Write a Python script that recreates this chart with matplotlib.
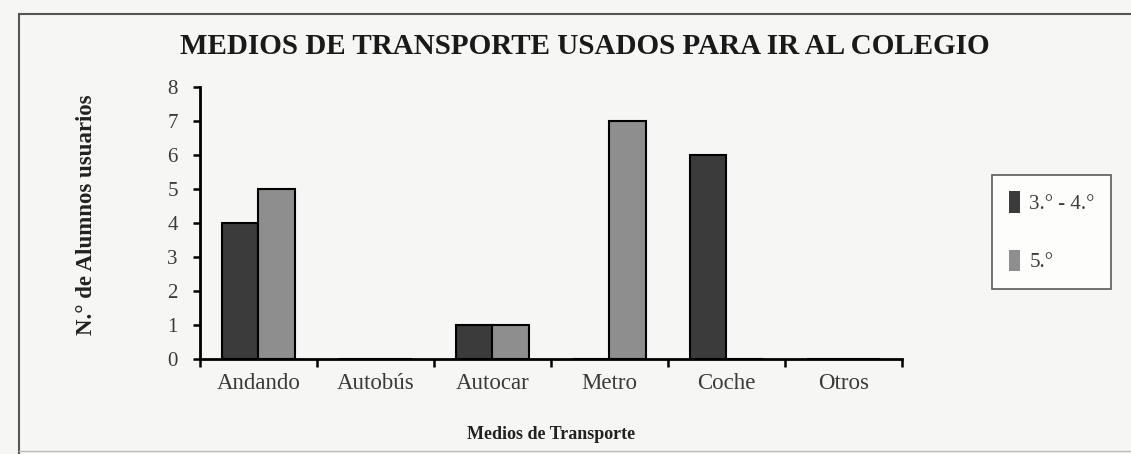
import matplotlib.pyplot as plt
from matplotlib.patches import Patch
from matplotlib.lines import Line2D
import numpy as np

# Datos: alumnos por medio de transporte
medios = ['Andando', 'Autobús', 'Autocar', 'Metro', 'Coche', 'Otros']
curso_3_4 = [4, 0, 1, 0, 6, 0]
curso_5 = [5, 0, 1, 7, 0, 0]
series_labels = ['3.° - 4.°', '5.°']

color_oscuro = '#3b3b3b'
color_claro = '#8e8e8e'
fondo = '#f6f6f4'

plt.rcParams['font.family'] = ['Liberation Serif', 'DejaVu Serif']

fig = plt.figure(figsize=(11.31, 4.54), dpi=100, facecolor=fondo)
ax = fig.add_axes([0.1768, 0.2093, 0.6207, 0.599])
ax.set_facecolor(fondo)

x = np.arange(len(medios))
w = 0.31
ax.bar(x - w / 2, curso_3_4, w, color=color_oscuro, edgecolor='black', linewidth=1.5, zorder=3)
ax.bar(x + w / 2, curso_5, w, color=color_claro, edgecolor='black', linewidth=1.5, zorder=3)

ax.set_xlim(-0.5, len(medios) - 0.5)
ax.set_ylim(0, 8)
ax.set_yticks(range(0, 9))

# ticks del eje x en los limites de cada categoria, etiquetas centradas
ax.set_xticks(np.arange(-0.5, len(medios), 1.0))
ax.set_xticklabels([])
ax.set_xticks(x, minor=True)
ax.set_xticklabels(medios, minor=True)
ax.tick_params(axis='x', which='minor', length=0, pad=10, labelsize=16.5, labelcolor='#3a3a3a')
ax.tick_params(axis='x', which='major', direction='out', length=6, width=1.8, color='black')
ax.tick_params(axis='y', direction='out', length=5, width=1.8, pad=11, labelsize=15, labelcolor='#3a3a3a')

for s in ['top', 'right']:
    ax.spines[s].set_visible(False)
for s in ['left', 'bottom']:
    ax.spines[s].set_linewidth(2)
    ax.spines[s].set_color('black')

ax.set_ylabel('N.° de Alumnos usuarios', fontsize=16.5, fontweight='bold', color='#222222')
ax.yaxis.set_label_coords(-0.147, 0.53)
ax.set_xlabel('Medios de Transporte', fontsize=13, fontweight='bold', color='#222222')
ax.xaxis.set_label_coords(0.5, -0.245)

fig.text(0.517, 0.897, 'MEDIOS DE TRANSPORTE USADOS PARA IR AL COLEGIO',
         ha='center', va='center', fontsize=21, fontweight='bold', color='#1a1a1a')

handles = [Patch(facecolor=color_oscuro, edgecolor='none'),
           Patch(facecolor=color_claro, edgecolor='none')]
leg = fig.legend(handles, series_labels, loc='upper left', bbox_to_anchor=(0.877, 0.615),
                 fontsize=15, frameon=True, fancybox=False, edgecolor='#333333',
                 handlelength=0.55, handleheight=1.2, handletextpad=0.45,
                 labelspacing=1.7, borderpad=0.8, borderaxespad=0)
leg.get_frame().set_facecolor('white')
leg.get_frame().set_linewidth(1.2)
for t in leg.get_texts():
    t.set_color('#3a3a3a')

# marco exterior
fig.add_artist(Line2D([0.0168, 1.0], [0.969, 0.969], color='#555555', lw=1.5))
fig.add_artist(Line2D([0.0168, 0.0168], [0.0, 0.969], color='#555555', lw=1.5))
fig.add_artist(Line2D([0.0168, 1.0], [0.006, 0.006], color='#bbbbbb', lw=1.0))

fig.savefig('out.png', dpi=100, facecolor=fondo)
